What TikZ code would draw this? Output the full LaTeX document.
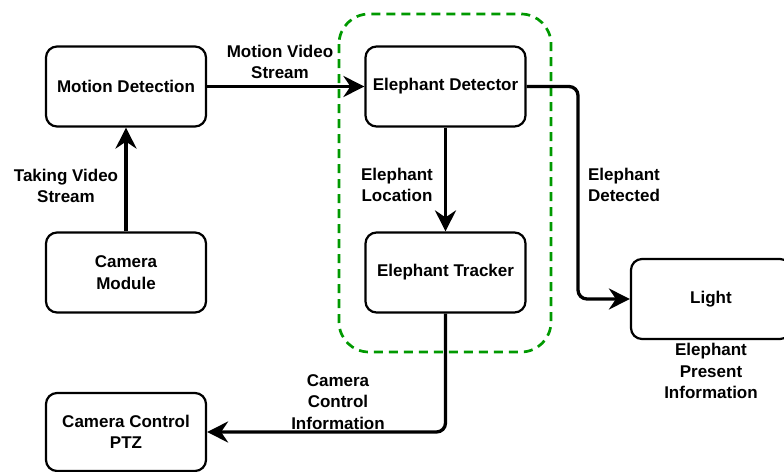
\documentclass[tikz,border=0pt]{standalone}
\usepackage{fontspec}
\setmainfont{Liberation Sans}
\usetikzlibrary{arrows.meta}
\definecolor{groupgreen}{RGB}{0,153,0}
\begin{document}
\begin{tikzpicture}[x=1pt,y=-1pt,
  font=\fontsize{17}{21.5}\selectfont\bfseries,
  block/.style={draw, line width=2.2pt, rounded corners=11pt, minimum width=160pt,
    minimum height=80pt, align=center, inner sep=2pt},
  conn/.style={line width=3.3pt, -{Stealth[length=21pt,width=21pt,inset=7pt]}},
  lbl/.style={align=center, inner sep=0pt}]
\useasboundingbox (0,0) rectangle (784,471);

% grouping frame around the elephant detector/tracker pair
\draw[groupgreen, line width=2.7pt, dash pattern=on 9pt off 6pt, rounded corners=30pt]
  (339,14) rectangle (551,352);

% processing blocks
\node[block] (md) at (126,86.5) {Motion Detection};
\node[block] (ed) at (445.5,86.5) {Elephant Detector};
\node[block] (cm) at (126,272.5) {Camera\\Module};
\node[block] (et) at (445.5,272.5) {Elephant Tracker};
\node[block] (light) at (711,299) {Light};
\node[block, minimum height=78pt] (ptz) at (126,432) {Camera Control\\PTZ};

% connectors
\coordinate (bend) at (578,86.5);
\draw[conn] (cm.north) -- (md.south);
\draw[conn] (md.east) -- (ed.west);
\draw[conn] (ed.south) -- (et.north);
\draw[conn, rounded corners=9pt] (ed.east) -- (bend) |- (light.west);
\draw[conn, rounded corners=9pt] (et.south) |- (ptz.east);

% connector labels
\node[lbl] (l1) at (280,62) {Motion Video\\Stream};
\node[lbl] (l2) at (66,186) {Taking Video\\Stream};
\node[lbl] (l3) at (397,185) {Elephant\\Location};
\node[lbl] (l4) at (624,185) {Elephant\\Detected};
\node[lbl] (l5) at (338,402) {Camera\\Control\\Information};
\node[lbl] (l6) at (711,371) {Elephant\\Present\\Information};
\end{tikzpicture}
\end{document}
